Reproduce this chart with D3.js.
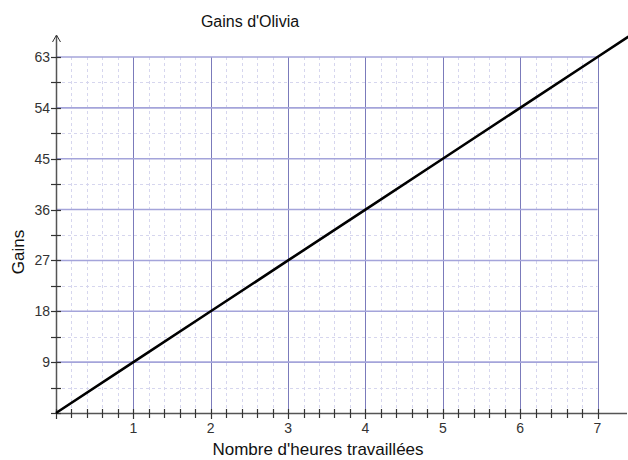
<!DOCTYPE html>
<html><head><meta charset="utf-8">
<script src="https://cdn.jsdelivr.net/npm/d3@7"></script>
<style>body{margin:0;background:#fff}svg{display:block;font-family:Arial,"Liberation Sans",sans-serif}</style>
</head><body><svg width="628" height="460"></svg>
<script>
const title = "Gains d'Olivia";
const xLabel = "Nombre d'heures travaillées";
const yLabel = "Gains";
const hours = [0, 1, 2, 3, 4, 5, 6, 7, 7.4];
const gains = [0, 9, 18, 27, 36, 45, 54, 63, 66.6];
const xTicks = [1, 2, 3, 4, 5, 6, 7];
const yTicks = [9, 18, 27, 36, 45, 54, 63];
const xMinorStep = 0.2;
const yMinorStep = 4.5;

const svg = d3.select("svg");
const x = d3.scaleLinear().domain([0, 7]).range([56, 597.5]);
const y = d3.scaleLinear().domain([0, 63]).range([413, 57]);
const x0 = x(0), y0 = y(0), xEnd = x(7), yTop = y(63);

const xMinor = d3.range(0, 7 + 1e-9, xMinorStep).map(v => +v.toFixed(2));
const yMinor = d3.range(0, 63 + 1e-9, yMinorStep).map(v => +v.toFixed(2));

const g = svg.append("g");
g.selectAll(".vm").data(xMinor.filter(v => Math.abs(v - Math.round(v)) > 1e-6)).join("line")
  .attr("x1", d => Math.round(x(d)) + 0.5).attr("x2", d => Math.round(x(d)) + 0.5)
  .attr("y1", yTop).attr("y2", y0)
  .attr("stroke", "#d6d6ee").attr("stroke-dasharray", "3,3");
g.selectAll(".hm").data(yMinor.filter(v => v % 9 !== 0)).join("line")
  .attr("x1", x0).attr("x2", xEnd)
  .attr("y1", d => Math.round(y(d)) + 0.5).attr("y2", d => Math.round(y(d)) + 0.5)
  .attr("stroke", "#d6d6ee").attr("stroke-dasharray", "3,3");
g.selectAll(".vM").data(xTicks).join("line")
  .attr("x1", d => Math.round(x(d)) + 0.5).attr("x2", d => Math.round(x(d)) + 0.5)
  .attr("y1", yTop).attr("y2", y0)
  .attr("stroke", "#7b7bbb").attr("stroke-width", 1);
g.selectAll(".hM").data(yTicks).join("line")
  .attr("x1", x0).attr("x2", xEnd)
  .attr("y1", d => y(d)).attr("y2", d => y(d))
  .attr("stroke", "#a4a4da").attr("stroke-width", 1.6);

const axCol = "#555";
svg.append("line").attr("x1", x0).attr("x2", 627).attr("y1", y0 + 0.5).attr("y2", y0 + 0.5)
  .attr("stroke", axCol).attr("stroke-width", 1.5);
svg.append("line").attr("x1", x0 + 0.5).attr("x2", x0 + 0.5).attr("y1", y0).attr("y2", 36)
  .attr("stroke", axCol).attr("stroke-width", 1.5);
svg.append("path").attr("d", `M${x0 - 3.5},${42} L${x0 + 0.5},${35} L${x0 + 4.5},${42}`)
  .attr("fill", "none").attr("stroke", "#333").attr("stroke-width", 1);
svg.selectAll(".xt").data(xMinor).join("line")
  .attr("x1", d => Math.round(x(d)) + 0.5).attr("x2", d => Math.round(x(d)) + 0.5)
  .attr("y1", y0 - 4).attr("y2", d => Math.abs(d - Math.round(d)) < 1e-6 ? y0 + 6 : y0 + 5)
  .attr("stroke", "#333").attr("stroke-width", 1.2);
svg.selectAll(".yt").data(yMinor).join("line")
  .attr("x1", x0 - 5).attr("x2", x0 + 5)
  .attr("y1", d => Math.round(y(d)) + 0.5).attr("y2", d => Math.round(y(d)) + 0.5)
  .attr("stroke", "#333").attr("stroke-width", 1.2);

svg.selectAll(".xl").data(xTicks).join("text")
  .attr("x", d => x(d)).attr("y", 433).attr("text-anchor", "middle")
  .attr("font-size", 14).attr("fill", "#333").text(d => d);
svg.selectAll(".yl").data(yTicks).join("text")
  .attr("x", 50).attr("y", d => y(d) + 5).attr("text-anchor", "end")
  .attr("font-size", 14).attr("fill", "#333").text(d => d);

svg.append("clipPath").attr("id", "c").append("rect").attr("x", 0).attr("y", 0).attr("width", 628).attr("height", 460);
svg.append("path").datum(hours.map((h, i) => [h, gains[i]]))
  .attr("clip-path", "url(#c)")
  .attr("d", d3.line().x(d => x(d[0])).y(d => y(d[1])))
  .attr("fill", "none").attr("stroke", "#000").attr("stroke-width", 2.6);

svg.append("text").attr("x", 250).attr("y", 27).attr("text-anchor", "middle")
  .attr("font-size", 16).attr("fill", "#111").text(title);
svg.append("text").attr("x", 318).attr("y", 455).attr("text-anchor", "middle")
  .attr("font-size", 17).attr("fill", "#111").text(xLabel);
svg.append("text").attr("transform", "translate(24,252) rotate(-90)").attr("text-anchor", "middle")
  .attr("font-size", 17).attr("fill", "#111").text(yLabel);
</script></body></html>
